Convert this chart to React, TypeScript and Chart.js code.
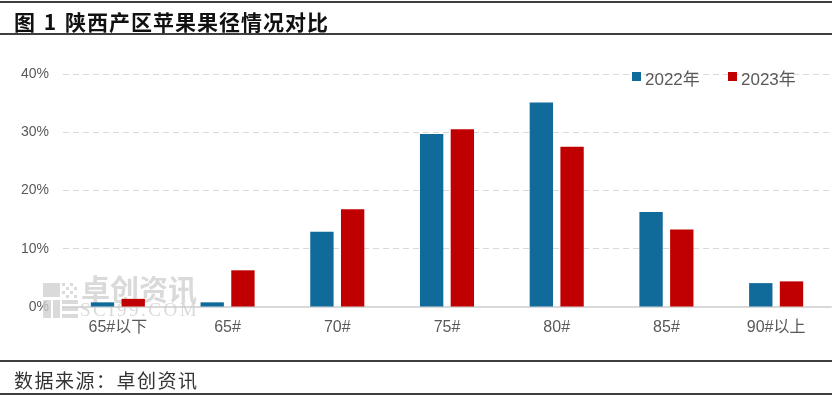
import React, { useEffect, useRef } from "react";
import { Chart, registerables } from "chart.js";

Chart.register(...registerables);

const categories = ["65#以下", "65#", "70#", "75#", "80#", "85#", "90#以上"];
const series2022 = [0.8, 0.8, 12.9, 29.7, 35.1, 16.3, 4.1];
const series2023 = [1.4, 6.3, 16.8, 30.5, 27.5, 13.3, 4.4];
const seriesNames = ["2022年", "2023年"];
const yTicks = [0, 10, 20, 30, 40];

const BLUE = "#106A9A";
const RED = "#C00000";
const TEXT = "#595959";
const FONT = "'Liberation Sans', 'Noto Sans CJK SC', sans-serif";

const watermarkPlugin = {
  id: "watermark",
  beforeDatasetsDraw(chart: any) {
    const ctx = chart.ctx;
    ctx.save();
    ctx.fillStyle = "rgba(205,205,205,0.75)";
    ctx.fillRect(43, 283, 17, 14);
    ctx.fillRect(43, 300, 8, 18);
    ctx.fillRect(53, 300, 7, 18);
    ctx.fillRect(62, 300, 16, 4);
    ctx.fillRect(62, 307, 16, 4);
    ctx.fillRect(62, 314, 16, 4);
    for (let i = 0; i < 4; i++) {
      for (let j = 0; j < 4; j++) {
        if ((i + j) % 2 === 0) ctx.fillRect(62 + i * 4, 283 + j * 4, 3, 3);
      }
    }
    ctx.font = "bold 29px 'Noto Sans CJK SC', sans-serif";
    ctx.textBaseline = "middle";
    ctx.textAlign = "left";
    ctx.fillText("卓创资讯", 81, 290);
    ctx.font = "19px 'Liberation Serif', serif";
    try { (ctx as any).letterSpacing = "2.5px"; } catch (e) {}
    ctx.fillText("SCI99.COM", 80, 311);
    try { (ctx as any).letterSpacing = "0px"; } catch (e) {}
    ctx.restore();
  },
};

const legendPlugin = {
  id: "customLegend",
  afterDatasetsDraw(chart: any) {
    const ctx = chart.ctx;
    ctx.save();
    ctx.font = "17px " + FONT;
    ctx.textBaseline = "middle";
    ctx.textAlign = "left";
    const items = [
      { x: 632, color: BLUE, label: seriesNames[0] },
      { x: 728, color: RED, label: seriesNames[1] },
    ];
    items.forEach((it) => {
      ctx.fillStyle = it.color;
      ctx.fillRect(it.x, 72, 9, 9);
      ctx.fillStyle = TEXT;
      ctx.fillText(it.label, it.x + 13, 80);
    });
    ctx.restore();
  },
};

export default function App() {
  const canvasRef = useRef<HTMLCanvasElement | null>(null);

  useEffect(() => {
    if (!canvasRef.current) return;
    const chart = new Chart(canvasRef.current, {
      type: "bar",
      data: {
        labels: categories,
        datasets: [
          {
            label: seriesNames[0],
            data: series2022,
            backgroundColor: BLUE,
            categoryPercentage: 0.56,
            barPercentage: 0.76,
          },
          {
            label: seriesNames[1],
            data: series2023,
            backgroundColor: RED,
            categoryPercentage: 0.56,
            barPercentage: 0.76,
          },
        ],
      },
      options: {
        responsive: false,
        animation: false,
        layout: { padding: { left: 8, right: 3, top: 74, bottom: 50 } },
        plugins: {
          legend: { display: false },
          title: { display: false },
          tooltip: { enabled: false },
        },
        scales: {
          x: {
            grid: { display: false, drawTicks: false },
            border: { display: true, color: "#D9D9D9", width: 1.5 },
            ticks: {
              color: TEXT,
              font: { size: 16, family: FONT },
              padding: 11,
              maxRotation: 0,
            },
            afterFit: (scale: any) => {
              scale.height = 40;
            },
          },
          y: {
            min: 0,
            max: 40,
            afterBuildTicks: (scale: any) => {
              scale.ticks = yTicks.map((v) => ({ value: v }));
            },
            grid: {
              drawTicks: false,
              color: "#D9D9D9",
              lineWidth: 1,
            },
            border: {
              display: false,
              dash: (ctx: any) => (ctx.tick && ctx.tick.value === 0 ? [] : [6, 4]),
            },
            ticks: {
              color: TEXT,
              font: { size: 14, family: FONT },
              padding: 14,
              callback: (v: any) => v + "%",
            },
            afterFit: (scale: any) => {
              scale.width = 55;
            },
          },
        },
      },
      plugins: [watermarkPlugin, legendPlugin],
    });
    return () => chart.destroy();
  }, []);

  const line = (top: number): React.CSSProperties => ({
    position: "absolute",
    left: 0,
    top,
    width: 832,
    height: 2,
    background: "#3F3F3F",
  });

  return (
    <div
      style={{
        position: "fixed",
        left: 0,
        top: 0,
        width: 834,
        height: 397,
        background: "#fff",
        overflow: "hidden",
      }}
    >
      <canvas
        ref={canvasRef}
        width={834}
        height={397}
        style={{ position: "absolute", left: 0, top: 0, width: 834, height: 397 }}
      />
      <div style={line(1)} />
      <div
        style={{
          position: "absolute",
          left: 14,
          top: 11,
          fontFamily: "'Noto Sans CJK SC', sans-serif",
          fontWeight: 700,
          fontSize: 21,
          lineHeight: "21px",
          letterSpacing: 1,
          wordSpacing: 2,
          color: "#111",
          whiteSpace: "pre",
        }}
      >
        图 1 陕西产区苹果果径情况对比
      </div>
      <div style={line(33)} />
      <div style={line(360)} />
      <div
        style={{
          position: "absolute",
          left: 14,
          top: 370,
          fontFamily: "'Noto Sans CJK SC', sans-serif",
          fontSize: 19,
          lineHeight: "20px",
          letterSpacing: 1.5,
          color: "#333",
          whiteSpace: "pre",
        }}
      >
        数据来源：卓创资讯
      </div>
      <div style={line(393)} />
    </div>
  );
}
